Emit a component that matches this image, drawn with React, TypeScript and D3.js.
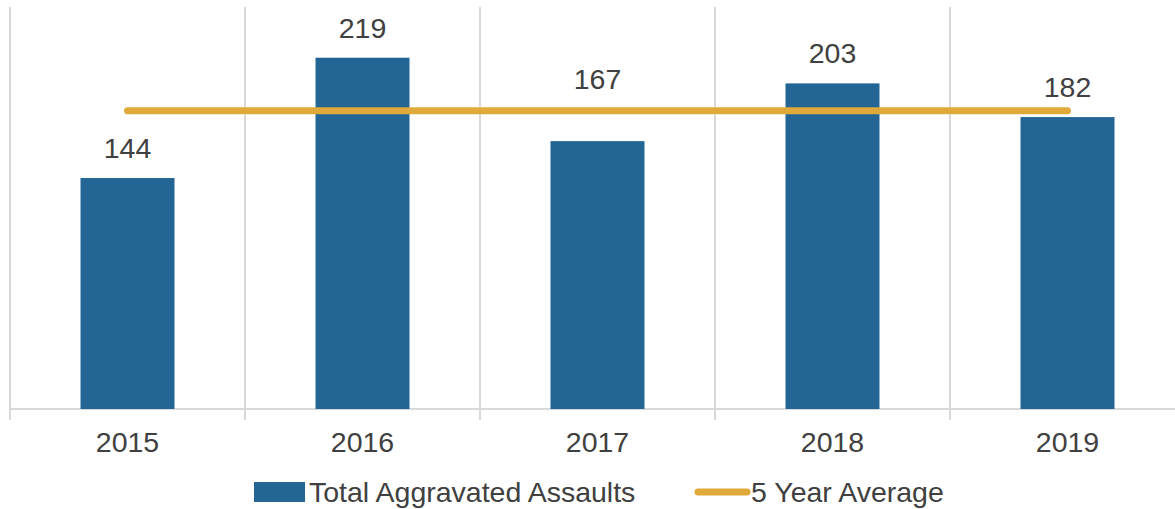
import React from "react";
import * as d3 from "d3";

const years = ["2015", "2016", "2017", "2018", "2019"];
const assaults = [144, 219, 167, 203, 182];
const average = [186, 186, 186, 186, 186];
const seriesNames = ["Total Aggravated Assaults", "5 Year Average"];

const W = 1175;
const H = 509;
const BAR = "#236695";
const LINE = "#E0AA3A";
const GRID = "#d9d9d9";
const TEXT = "#404040";
const FONT = "'Liberation Sans', Arial, sans-serif";

export default function App() {
  const left = 10;
  const right = 1185;
  const top = 8;
  const base = 409;

  const x = d3.scaleBand<string>().domain(years).range([left, right]).paddingInner(0).paddingOuter(0);
  const bw = x.bandwidth() * 0.4;
  const y = d3.scaleLinear().domain([0, 250]).range([base, top]);
  const cx = (yr: string) => (x(yr) as number) + x.bandwidth() / 2;

  const line = d3
    .line<number>()
    .x((_, i) => cx(years[i]))
    .y((d) => y(d));

  const gridXs = years.map((yr) => x(yr) as number).concat([right]);

  // label placement: above the bar, unless it would collide with the average line
  const labelY = (v: number, i: number) => {
    const base0 = y(v) - 20;
    const ly = y(average[i]);
    const textTop = base0 - 21;
    if (textTop < ly + 4 && base0 > ly - 4) return ly - 22;
    return base0;
  };

  return (
    <svg
      width={W}
      height={H}
      style={{ position: "absolute", left: 0, top: 0, background: "#fff" }}
      fontFamily={FONT}
    >
      {gridXs.map((gx, i) => (
        <g key={i}>
          <line x1={gx} x2={gx} y1={top - 1} y2={base} stroke={GRID} strokeWidth={2} />
          <line x1={gx} x2={gx} y1={base} y2={base + 11} stroke={GRID} strokeWidth={2} />
        </g>
      ))}
      <line x1={left} x2={right} y1={base} y2={base} stroke={GRID} strokeWidth={2} />

      {assaults.map((v, i) => (
        <rect
          key={i}
          x={cx(years[i]) - bw / 2}
          y={y(v)}
          width={bw}
          height={base - y(v)}
          fill={BAR}
        />
      ))}

      <path
        d={line(average) || ""}
        fill="none"
        stroke={LINE}
        strokeWidth={7}
        strokeLinecap="round"
      />

      {assaults.map((v, i) => (
        <text
          key={i}
          x={cx(years[i])}
          y={labelY(v, i)}
          textAnchor="middle"
          fontSize={28.5}
          fill={TEXT}
        >
          {v}
        </text>
      ))}

      {years.map((yr) => (
        <text key={yr} x={cx(yr)} y={452} textAnchor="middle" fontSize={28.5} fill={TEXT}>
          {yr}
        </text>
      ))}

      <g>
        <rect x={254} y={482} width={51} height={20} fill={BAR} />
        <text x={309} y={502} fontSize={28.5} fill={TEXT}>
          {seriesNames[0]}
        </text>
        <line x1={698} x2={747} y1={492} y2={492} stroke={LINE} strokeWidth={7} strokeLinecap="round" />
        <text x={751} y={502} fontSize={28.5} fill={TEXT}>
          {seriesNames[1]}
        </text>
      </g>
    </svg>
  );
}
